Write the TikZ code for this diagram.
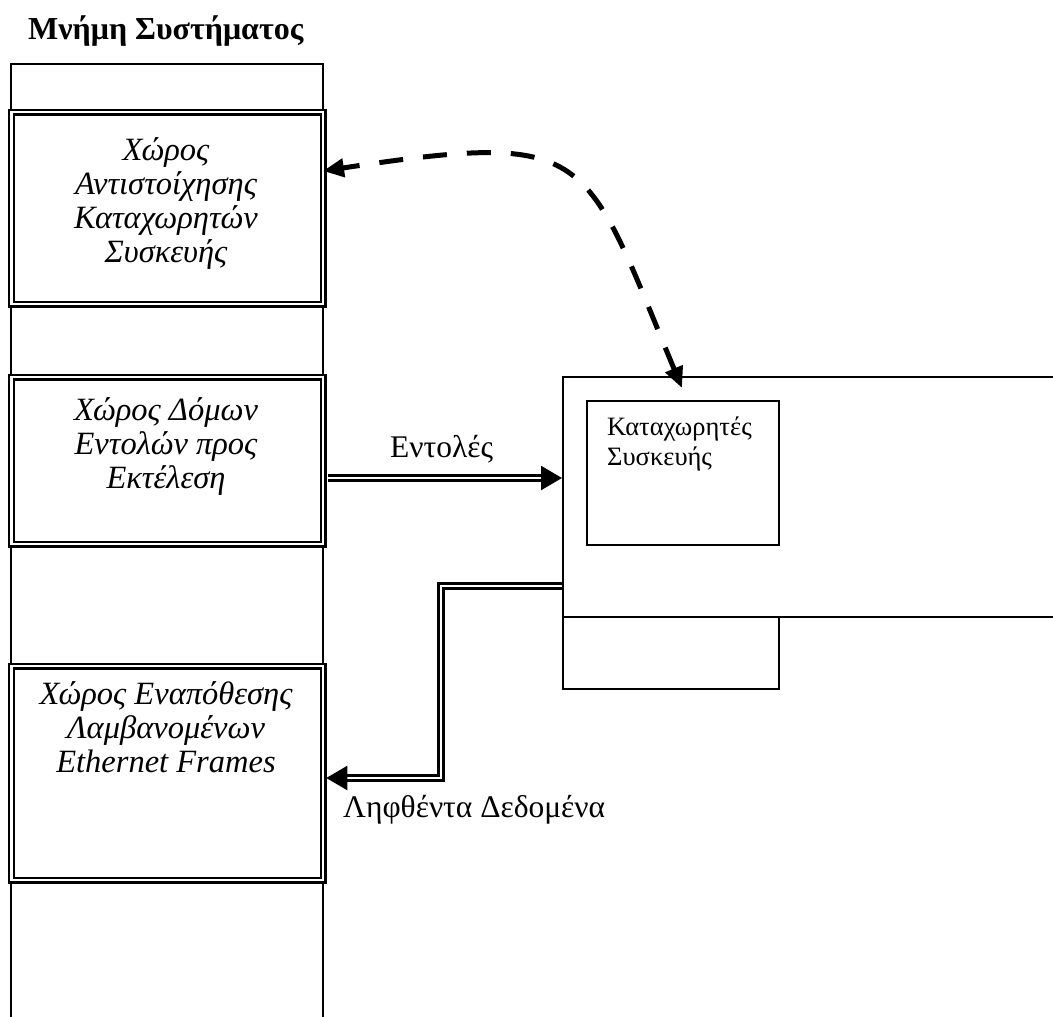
\documentclass[tikz,border=0pt]{standalone}
\usepackage{fontspec}
\setmainfont{Liberation Serif}
\usetikzlibrary{arrows.meta,calc}
\begin{document}
\begin{tikzpicture}[x=1pt,y=-1pt,
  thinbox/.style={draw, line width=1.6pt, inner sep=0pt, anchor=north west},
  membox/.style={draw, fill=white, double, line width=2.3pt, double distance=2.6pt, inner sep=0pt, anchor=north west},
  dbl/.style={double, line width=2.3pt, double distance=2.6pt},
  tipA/.style={-{Triangle[length=21pt,width=24pt]}},
  boxtext/.style={font=\fontsize{32.5}{34}\selectfont\itshape, align=center, anchor=base, inner sep=0pt},
  lbl/.style={font=\fontsize{31.5}{34}\selectfont, anchor=base west, inner sep=0pt},
  regtext/.style={font=\fontsize{26.5}{30}\selectfont, align=left, anchor=base west, inner sep=0pt},
  dashcurve/.style={line width=5pt, dash pattern=on 24pt off 20pt,
     {Triangle[length=21pt,width=18pt]}-{Triangle[length=21pt,width=18pt]}}
]
\useasboundingbox (0,0) rectangle (1053,1017);

% title
\node[font=\fontsize{32}{34}\selectfont\bfseries, anchor=base west, inner sep=0pt] (title) at (28,39) {Μνήμη Συστήματος};

% system memory column (open at the bottom)
\node[thinbox, minimum width=312pt, minimum height=1000pt] (mem) at (10,63) {};

% memory areas
\node[membox, minimum width=311.5pt, minimum height=192pt] (b1) at (10.5,111) {};
\node[membox, minimum width=311.5pt, minimum height=167pt] (b2) at (10.5,376) {};
\node[membox, minimum width=311.5pt, minimum height=214pt] (b3) at (10.5,665) {};

% (anchor=base of a multi-line node is the baseline of its last line)
\node[boxtext] (t1) at (166,262) {Χώρος\\Αντιστοίχησης\\Καταχωρητών\\Συσκευής};
\node[boxtext] (t2) at (166,488) {Χώρος Δόμων\\Εντολών προς\\Εκτέλεση};
\node[boxtext] (t3) at (166,772) {Χώρος Εναπόθεσης\\Λαμβανομένων\\Ethernet Frames};

% device
\node[thinbox, minimum width=520pt, minimum height=240pt] (dev) at (562,376) {};
\node[thinbox, minimum width=216pt, minimum height=72pt] (low) at (562,616) {};
\node[thinbox, minimum width=192pt, minimum height=144pt] (reg) at (586,400) {};
\node[regtext] (regt) at (607,465) {Καταχωρητές\\Συσκευής};

% commands connector
\coordinate (yE) at (0,478);
\draw[dbl, tipA, shorten <=3.5pt] (b2.east |- yE) -- (dev.west |- yE);
\node[lbl] (lE) at (390,457) {Εντολές};

% received data connector
\coordinate (yR) at (0,586);
\coordinate (xR) at (441,778);
\draw[dbl, tipA, shorten >=2pt] (dev.west |- yR) -| (xR) -- (b3.east |- xR);
\node[lbl] (lR) at (343,817) {Ληφθέντα Δεδομένα};

% dashed mapping connector
\coordinate (dtip) at (682,388);
\coordinate (utip) at (323,171);
\draw[dashcurve] (dtip) .. controls (583,150) and (594,130) .. (utip);
\end{tikzpicture}
\end{document}
